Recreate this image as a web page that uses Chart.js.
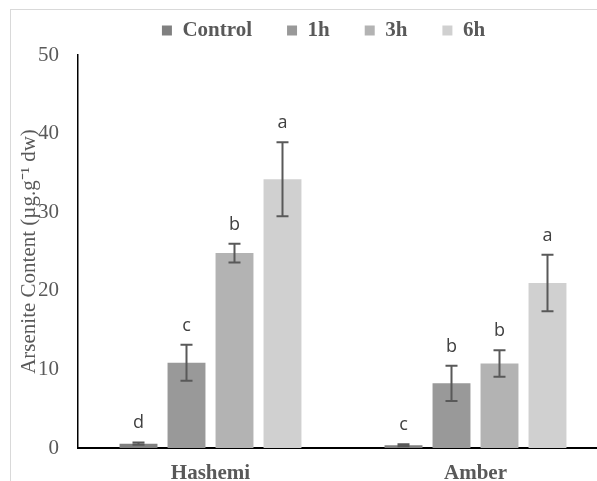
<!DOCTYPE html>
<html>
<head>
<meta charset="utf-8">
<script src="https://cdn.jsdelivr.net/npm/chart.js@4.4.1/dist/chart.umd.min.js"></script>
<style>
  html, body { margin: 0; padding: 0; overflow: hidden; background: #fff; }
  #frame { position: absolute; left: 10px; top: 9px; border: 1px solid #d9d9d9; width: 625px; height: 490px; overflow: hidden; }
  #chart { display: block; }
</style>
</head>
<body>
<div id="frame"><canvas id="chart" width="625" height="490"></canvas></div>
<script>
// Data
const categories = ['Hashemi', 'Amber'];
const seriesNames = ['Control', '1h', '3h', '6h'];
const seriesColors = ['#808080', '#999999', '#b3b3b3', '#d0d0d0'];

const controlValues = [0.55, 0.35];
const h1Values = [10.85, 8.23];
const h3Values = [24.8, 10.75];
const h6Values = [34.2, 21.0];

const controlErr = [0.15, 0.12];
const h1Err = [2.3, 2.25];
const h3Err = [1.2, 1.7];
const h6Err = [4.7, 3.6];

const controlLetters = ['d', 'c'];
const h1Letters = ['c', 'b'];
const h3Letters = ['b', 'b'];
const h6Letters = ['a', 'a'];

const yTicks = [0, 10, 20, 30, 40, 50];

const allValues = [controlValues, h1Values, h3Values, h6Values];
const allErrors = [controlErr, h1Err, h3Err, h6Err];
const allLetters = [controlLetters, h1Letters, h3Letters, h6Letters];

const serif = "'Liberation Serif', 'Times New Roman', serif";
const textGray = '#595959';

// Fix the legend box height so the plot starts where it does in the figure
const legendHeight = {
  id: 'legendHeight',
  afterInit(chart) {
    const fit = chart.legend.fit;
    chart.legend.fit = function () {
      fit.call(this);
      this.height = 70;
    };
  }
};

// Error bars and significance letters
const errorBars = {
  id: 'errorBars',
  afterDatasetsDraw(chart) {
    const ctx = chart.ctx;
    const y = chart.scales.y;
    ctx.save();
    chart.data.datasets.forEach((ds, i) => {
      const meta = chart.getDatasetMeta(i);
      meta.data.forEach((bar, j) => {
        const v = ds.data[j];
        const e = allErrors[i][j];
        const top = y.getPixelForValue(v + e);
        const bot = y.getPixelForValue(Math.max(v - e, 0));
        ctx.strokeStyle = '#595959';
        ctx.lineWidth = 2;
        ctx.beginPath();
        ctx.moveTo(bar.x, top);
        ctx.lineTo(bar.x, bot);
        ctx.moveTo(bar.x - 6, top);
        ctx.lineTo(bar.x + 6, top);
        ctx.moveTo(bar.x - 6, bot);
        ctx.lineTo(bar.x + 6, bot);
        ctx.stroke();

        ctx.fillStyle = '#404040';
        ctx.font = "18px 'Open Sans', sans-serif";
        ctx.textAlign = 'center';
        ctx.textBaseline = 'alphabetic';
        ctx.fillText(allLetters[i][j], bar.x, top - 14);
      });
    });
    ctx.restore();
  }
};

new Chart(document.getElementById('chart'), {
  type: 'bar',
  data: {
    labels: categories,
    datasets: seriesNames.map((name, i) => ({
      label: name,
      data: allValues[i],
      backgroundColor: seriesColors[i],
      borderWidth: 0,
      categoryPercentage: 0.7245,
      barPercentage: 0.79
    }))
  },
  options: {
    responsive: false,
    animation: false,
    devicePixelRatio: 1,
    layout: { padding: { left: 28, right: 28, top: -25, bottom: 0 } },
    plugins: {
      legend: {
        position: 'top',
        labels: {
          boxWidth: 10,
          boxHeight: 10,
          padding: 35,
          color: textGray,
          font: { family: serif, size: 21, weight: 'bold' }
        }
      },
      tooltip: { enabled: false }
    },
    scales: {
      x: {
        grid: { display: false, drawTicks: false },
        border: { display: true, color: '#000', width: 2 },
        ticks: {
          padding: 13.4,
          color: textGray,
          font: { family: serif, size: 21, weight: 'bold' }
        }
      },
      y: {
        min: 0,
        max: 50,
        afterBuildTicks(scale) {
          scale.ticks = yTicks.map(v => ({ value: v }));
        },
        grid: { display: false, drawTicks: false },
        border: { display: true, color: '#000', width: 1.5 },
        ticks: {
          padding: 19,
          color: textGray,
          font: { family: serif, size: 21 }
        },
        title: {
          display: true,
          text: 'Arsenite Content (µg.g⁻¹ dw)',
          color: textGray,
          font: { family: serif, size: 21 },
          padding: { top: -22.6, bottom: -22.6 }
        }
      }
    }
  },
  plugins: [legendHeight, errorBars]
});
</script>
</body>
</html>
